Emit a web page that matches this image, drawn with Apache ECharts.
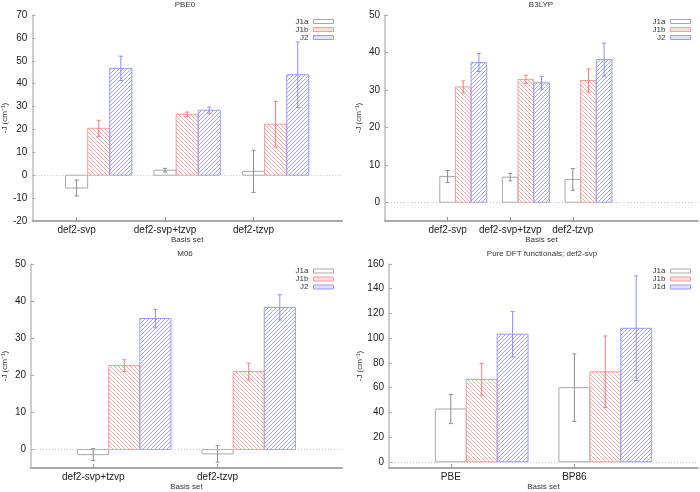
<!DOCTYPE html>
<html>
<head>
<meta charset="utf-8">
<script src="https://cdn.jsdelivr.net/npm/echarts@6/dist/echarts.min.js"></script>
<style>
  html, body { margin: 0; padding: 0; background: #fff; }
  #chart { width: 700px; height: 492px; }
</style>
</head>
<body>
<div id="chart"></div>
<script>
// categories of each panel
var basis3 = ["def2-svp", "def2-svp+tzvp", "def2-tzvp"];
var basis2 = ["def2-svp+tzvp", "def2-tzvp"];
var pureCats = ["PBE", "BP86"];

// PBE0
var pbe0J1a = [-5.6, 2.2, 1.7];
var pbe0J1aErr = [3.5, 0.8, 9.2];
var pbe0J1b = [20.5, 26.6, 22.3];
var pbe0J1bErr = [3.5, 1.0, 10.0];
var pbe0J2 = [46.7, 28.4, 43.9];
var pbe0J2Err = [5.3, 1.4, 14.3];

// B3LYP
var b3lypJ1a = [6.9, 6.7, 6.1];
var b3lypJ1aErr = [1.6, 1.0, 2.9];
var b3lypJ1b = [30.8, 32.8, 32.5];
var b3lypJ1bErr = [1.6, 1.1, 3.1];
var b3lypJ2 = [37.3, 31.9, 38.1];
var b3lypJ2Err = [2.4, 1.7, 4.4];

// M06
var m06J1a = [-1.4, -1.2];
var m06J1aErr = [1.6, 2.2];
var m06J1b = [22.6, 21.0];
var m06J1bErr = [1.6, 2.3];
var m06J2 = [35.3, 38.3];
var m06J2Err = [2.5, 3.4];

// pure DFT functionals, def2-svp
var pureJ1a = [42.7, 60.0];
var pureJ1aErr = [11.8, 27.3];
var pureJ1b = [66.7, 72.8];
var pureJ1bErr = [12.7, 29.0];
var pureJ1d = [103.2, 108.0];
var pureJ1dErr = [18.3, 42.3];

// tick labels
var ticksPbe0 = [-20, -10, 0, 10, 20, 30, 40, 50, 60, 70];
var ticks50 = [0, 10, 20, 30, 40, 50];
var ticks160 = [0, 20, 40, 60, 80, 100, 120, 140, 160];

var FONT = "Liberation Sans";

var styles = {
  J1a: { stroke: "#a8a8a8", err: "#8c8c8c", hatch: null, hatchColor: "#a8a8a8", legendFill: "#ffffff" },
  J1b: { stroke: "#ff9a9a", err: "#ff7a7a", hatch: "back", hatchColor: "#ffaaaa", legendFill: "#ffdede" },
  J2: { stroke: "#9a9aff", err: "#8c8cff", hatch: "fwd", hatchColor: "#a4a4ff", legendFill: "#e2e2ff" }
};

function hatchLines(x0, y0, x1, y1, dir, color) {
  var out = [];
  var step = 4;
  var lo, hi, c;
  if (dir === "back") {
    // y = x + c
    lo = Math.floor((y0 - x1) / step) * step;
    hi = y1 - x0;
    for (c = lo; c <= hi; c += step) {
      var xa = Math.max(x0, y0 - c), xb = Math.min(x1, y1 - c);
      if (xb > xa) out.push({ type: "line", shape: { x1: xa, y1: xa + c, x2: xb, y2: xb + c }, style: { stroke: color, fill: null, lineWidth: 1 } });
    }
  } else {
    // y = -x + c
    lo = Math.floor((x0 + y0) / step) * step;
    hi = x1 + y1;
    for (c = lo; c <= hi; c += step) {
      var xa2 = Math.max(x0, c - y1), xb2 = Math.min(x1, c - y0);
      if (xb2 > xa2) out.push({ type: "line", shape: { x1: xa2, y1: c - xa2, x2: xb2, y2: c - xb2 }, style: { stroke: color, fill: null, lineWidth: 1 } });
    }
  }
  return out;
}

function barRenderer(offset, st) {
  return function (params, api) {
    var x = api.value(0) + offset, v = api.value(1), e = api.value(2);
    var a = api.coord([x - 0.125, v]), b = api.coord([x + 0.125, 0]);
    var left = a[0], right = b[0];
    var top = Math.min(a[1], b[1]), bottom = Math.max(a[1], b[1]);
    var children = [];
    if (st.hatch) children = children.concat(hatchLines(left, top, right, bottom, st.hatch, st.hatchColor));
    children.push({ type: "rect", shape: { x: left, y: top, width: right - left, height: bottom - top },
      style: { fill: "none", stroke: st.stroke, lineWidth: 1 } });
    var hi = api.coord([x, v + e]), lo = api.coord([x, v - e]);
    children.push({ type: "line", shape: { x1: hi[0], y1: hi[1], x2: lo[0], y2: lo[1] }, style: { stroke: st.err, lineWidth: 1 } });
    children.push({ type: "line", shape: { x1: hi[0] - 2, y1: hi[1], x2: hi[0] + 2, y2: hi[1] }, style: { stroke: st.err, lineWidth: 1 } });
    children.push({ type: "line", shape: { x1: lo[0] - 2, y1: lo[1], x2: lo[0] + 2, y2: lo[1] }, style: { stroke: st.err, lineWidth: 1 } });
    return { type: "group", children: children };
  };
}

function seriesData(vals, errs) {
  return vals.map(function (v, i) { return [i, v, errs[i]]; });
}

var zeroLine = {
  silent: true, symbol: "none", label: { show: false },
  lineStyle: { color: "#c4c4c4", type: [1, 2], width: 1 },
  data: [{ yAxis: 0 }]
};

var series = [];
function addPanel(idx, names, sets) {
  sets.forEach(function (s, k) {
    var st = styles[["J1a", "J1b", "J2"][k]];
    var item = {
      type: "custom", name: names[k], xAxisIndex: idx, yAxisIndex: idx,
      renderItem: barRenderer(k * 0.25, st),
      itemStyle: { color: st.hatchColor },
      encode: { x: 0, y: 1 },
      data: seriesData(s[0], s[1])
    };
    if (k === 0) item.markLine = zeroLine;
    series.push(item);
  });
}
addPanel(0, ["J1a", "J1b", "J2"], [[pbe0J1a, pbe0J1aErr], [pbe0J1b, pbe0J1bErr], [pbe0J2, pbe0J2Err]]);
addPanel(1, ["J1a", "J1b", "J2"], [[b3lypJ1a, b3lypJ1aErr], [b3lypJ1b, b3lypJ1bErr], [b3lypJ2, b3lypJ2Err]]);
addPanel(2, ["J1a", "J1b", "J2"], [[m06J1a, m06J1aErr], [m06J1b, m06J1bErr], [m06J2, m06J2Err]]);
addPanel(3, ["J1a", "J1b", "J1d"], [[pureJ1a, pureJ1aErr], [pureJ1b, pureJ1bErr], [pureJ1d, pureJ1dErr]]);

var grids = [
  { left: 29, top: 15, width: 313, height: 206 },
  { left: 385, top: 15, width: 313, height: 206 },
  { left: 28, top: 264, width: 314, height: 207 },
  { left: 389, top: 264, width: 309, height: 207 }
];

function xAxis(idx, cats, min, max) {
  var pos = cats.map(function (c, i) { return i; });
  return {
    type: "value", gridIndex: idx, min: min, max: max,
    name: "Basis set", nameLocation: "middle", nameGap: 15,
    nameTextStyle: { fontFamily: FONT, fontSize: 8, color: "#333" },
    axisLine: { show: true, onZero: false, lineStyle: { color: "#a8a8a8", width: 2 } },
    axisTick: { show: true, inside: true, length: 4, customValues: pos, lineStyle: { color: "#999" } },
    axisLabel: { customValues: pos, margin: 4, fontFamily: FONT, fontSize: 10, color: "#222",
      formatter: function (v) { return cats[Math.round(v)]; } },
    splitLine: { show: false }
  };
}

function yAxis(idx, min, max, ticks) {
  return {
    type: "value", gridIndex: idx, min: min, max: max,
    name: "-J (cm\u207b\u00b9)", nameLocation: "middle", nameGap: 22, nameRotate: 90,
    nameTextStyle: { fontFamily: FONT, fontSize: 8, color: "#333" },
    axisLine: { show: true, onZero: false, lineStyle: { color: "#bdbdbd", width: 1.5 } },
    axisTick: { show: true, inside: true, length: 3, customValues: ticks, lineStyle: { color: "#aaa" } },
    axisLabel: { customValues: ticks, margin: 5, fontFamily: FONT, fontSize: 10, color: "#222" },
    splitLine: { show: false }
  };
}

function legend(names, top, right) {
  var keys = ["J1a", "J1b", "J2"];
  return {
    orient: "vertical", top: top, right: right, align: "right", padding: 0,
    itemWidth: 20, itemHeight: 4, itemGap: 0, icon: "rect",
    textStyle: { fontFamily: FONT, fontSize: 8, color: "#333", lineHeight: 7 },
    selectedMode: false,
    data: names.map(function (n, i) {
      var st = styles[keys[i]];
      return { name: n, itemStyle: { color: st.legendFill, borderColor: st.stroke, borderWidth: 1 } };
    })
  };
}

var titleStyle = { fontFamily: FONT, fontSize: 8, fontWeight: "normal", color: "#333" };

var option = {
  animation: false,
  backgroundColor: "#fff",
  title: [
    { text: "PBE0", left: 185, top: 1, padding: 0, textAlign: "center", textStyle: titleStyle },
    { text: "B3LYP", left: 541, top: 1, padding: 0, textAlign: "center", textStyle: titleStyle },
    { text: "M06", left: 185, top: 250, padding: 0, textAlign: "center", textStyle: titleStyle },
    { text: "Pure DFT functionals; def2-svp", left: 542, top: 250, padding: 0, textAlign: "center", textStyle: titleStyle }
  ],
  legend: [
    legend(["J1a", "J1b", "J2"], 17.5, 366),
    legend(["J1a", "J1b", "J2"], 17.5, 9),
    legend(["J1a", "J1b", "J2"], 267, 366),
    legend(["J1a", "J1b", "J1d"], 267, 9)
  ],
  grid: grids,
  xAxis: [
    xAxis(0, basis3, -0.5, 3),
    xAxis(1, basis3, -1, 4),
    xAxis(2, basis2, -0.5, 2),
    xAxis(3, pureCats, -0.5, 2)
  ],
  yAxis: [
    yAxis(0, -20, 70, ticksPbe0),
    yAxis(1, -5, 50, ticks50),
    yAxis(2, -5, 50, ticks50),
    yAxis(3, -5, 160, ticks160)
  ],
  series: series
};

var chart = echarts.init(document.getElementById("chart"));
chart.setOption(option);
</script>
</body>
</html>
